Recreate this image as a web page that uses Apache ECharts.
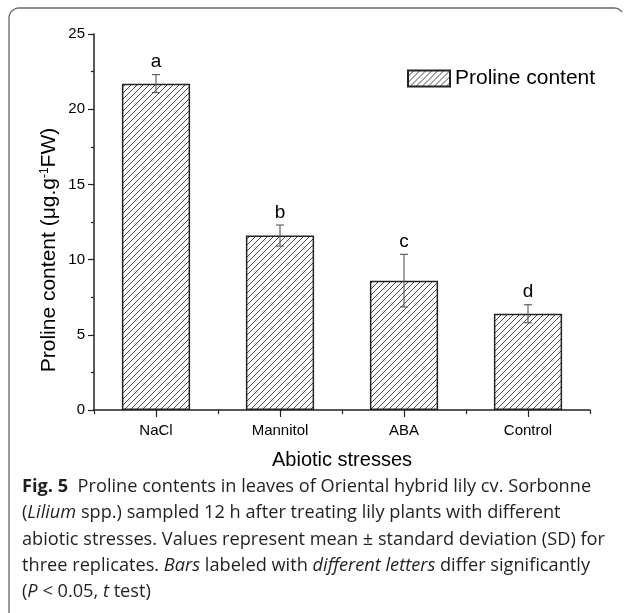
<!DOCTYPE html>
<html>
<head>
<meta charset="utf-8">
<script src="https://cdn.jsdelivr.net/npm/echarts@6/dist/echarts.min.js"></script>
<style>
html,body{margin:0;padding:0;background:#fff;}
#c{width:627px;height:613px;}
</style>
</head>
<body>
<div id="c"></div>
<script>
const categories = ['NaCl', 'Mannitol', 'ABA', 'Control'];
const means = [21.7, 11.6, 8.6, 6.4];
const errors = [0.6, 0.7, 1.75, 0.6];
const letters = ['a', 'b', 'c', 'd'];
const yMin = 0, yMax = 25, yInterval = 5;
const seriesName = 'Proline content';
const captionLines = [
  '{b|Fig. 5}  Proline contents in leaves of Oriental hybrid lily cv. Sorbonne',
  '({i|Lilium} spp.) sampled 12 h after treating lily plants with different',
  'abiotic stresses. Values represent mean \u00b1 standard deviation (SD) for',
  'three replicates. {i|Bars} labeled with {i|different letters} differ significantly',
  '({i|P} < 0.05, {i|t} test)'
];

// hatch pattern
const tile = document.createElement('canvas');
tile.width = 6; tile.height = 6;
const tc = tile.getContext('2d');
tc.fillStyle = '#fff';
tc.fillRect(0, 0, 6, 6);
tc.strokeStyle = '#333';
tc.lineWidth = 0.9;
tc.beginPath();
tc.moveTo(-1, 7); tc.lineTo(7, -1);
tc.moveTo(-1, 1); tc.lineTo(1, -1);
tc.moveTo(5, 7); tc.lineTo(7, 5);
tc.stroke();
const hatch = { image: tile, repeat: 'repeat' };

const chart = echarts.init(document.getElementById('c'), null, { renderer: 'canvas' });
const FONT = 'Liberation Sans, Arial, sans-serif';
const CAP_FONT = 'Open Sans, sans-serif';
const CAP_SIZE = 18.2;

const errData = categories.map((c, i) => [i, means[i], errors[i]]);

function arcPts(cx, cy, r, a0, a1, n) {
  const p = [];
  for (let k = 0; k <= n; k++) {
    const a = a0 + (a1 - a0) * k / n;
    p.push([cx + r * Math.cos(a), cy + r * Math.sin(a)]);
  }
  return p;
}
const framePts = [[9, 613]].concat(arcPts(19, 18, 10, Math.PI, Math.PI * 1.5, 8))
  .concat(arcPts(614, 18, 10, Math.PI * 1.5, Math.PI * 1.8, 5));

const graphics = [
  {
    type: 'polyline',
    shape: { points: framePts },
    style: { fill: null, stroke: '#666', lineWidth: 1.3 },
    silent: true
  },
  {
    type: 'text',
    x: 49, y: 250,
    rotation: Math.PI / 2,
    style: {
      text: 'Proline content (\u03bcg.g{sup|-1}FW)',
      fontSize: 21, fontFamily: FONT, fill: '#000',
      align: 'center', verticalAlign: 'middle',
      rich: {
        sup: { fontSize: 12, fontFamily: FONT, fill: '#000', verticalAlign: 'top', lineHeight: 13 }
      }
    }
  }
];
captionLines.forEach((t, k) => {
  graphics.push({
    type: 'text',
    x: 22, y: 487 + k * 26.3,
    style: {
      text: t,
      fontSize: CAP_SIZE, fontFamily: CAP_FONT, fill: '#231f20',
      align: 'left', verticalAlign: 'middle',
      rich: {
        b: { fontSize: CAP_SIZE, fontFamily: CAP_FONT, fontWeight: 'bold', fill: '#231f20' },
        i: { fontSize: CAP_SIZE, fontFamily: CAP_FONT, fontStyle: 'italic', fill: '#231f20' }
      }
    }
  });
});

const option = {
  animation: false,
  backgroundColor: '#fff',
  grid: { left: 94, right: 37, top: 34, bottom: 203, containLabel: false },
  legend: {
    data: [seriesName],
    left: 402, top: 63,
    itemWidth: 42, itemHeight: 16,
    icon: 'rect',
    textStyle: { fontSize: 21, fontFamily: FONT, color: '#000' },
    selectedMode: false
  },
  xAxis: [
    {
      type: 'category',
      data: categories,
      position: 'bottom',
      axisLine: { show: true, lineStyle: { color: '#222', width: 1.5 } },
      axisTick: { show: true, alignWithLabel: true, length: 7, lineStyle: { color: '#222', width: 1.2 } },
      axisLabel: { fontSize: 15, fontFamily: FONT, color: '#000', margin: 13 },
      name: 'Abiotic stresses',
      nameLocation: 'middle',
      nameGap: 40,
      nameTextStyle: { fontSize: 20, fontFamily: FONT, color: '#000' },
      splitLine: { show: false }
    },
    {
      type: 'category',
      data: categories,
      position: 'bottom',
      axisLine: { show: false },
      axisTick: { show: true, length: 4, lineStyle: { color: '#222', width: 1.2 } },
      axisLabel: { show: false },
      splitLine: { show: false }
    }
  ],
  yAxis: {
    type: 'value',
    min: yMin, max: yMax, interval: yInterval,
    axisLine: { show: true, lineStyle: { color: '#222', width: 1.5 } },
    axisTick: { show: true, length: 6, lineStyle: { color: '#222', width: 1.2 } },
    minorTick: { show: true, splitNumber: 2, length: 3, lineStyle: { color: '#222', width: 1.2 } },
    axisLabel: { fontSize: 15, fontFamily: FONT, color: '#000', margin: 9 },
    splitLine: { show: false }
  },
  series: [
    {
      name: seriesName,
      type: 'bar',
      xAxisIndex: 0,
      data: means,
      barWidth: '55%',
      itemStyle: { color: hatch, borderColor: '#222', borderWidth: 1.5 },
      z: 2
    },
    {
      type: 'custom',
      xAxisIndex: 0,
      data: errData,
      z: 5,
      renderItem: function (params, api) {
        const i = api.value(0), m = api.value(1), e = api.value(2);
        const top = api.coord([i, m + e]);
        const bot = api.coord([i, m - e]);
        const hw = 4;
        const st = { stroke: '#555', lineWidth: 1.1 };
        return {
          type: 'group',
          children: [
            { type: 'line', shape: { x1: top[0], y1: top[1], x2: bot[0], y2: bot[1] }, style: st },
            { type: 'line', shape: { x1: top[0] - hw, y1: top[1], x2: top[0] + hw, y2: top[1] }, style: st },
            { type: 'line', shape: { x1: bot[0] - hw, y1: bot[1], x2: bot[0] + hw, y2: bot[1] }, style: st },
            {
              type: 'text',
              x: top[0], y: top[1] - 3,
              style: {
                text: letters[params.dataIndex],
                fontSize: 19, fontFamily: FONT, fill: '#000',
                align: 'center', verticalAlign: 'bottom'
              }
            }
          ]
        };
      }
    }
  ],
  graphic: graphics
};
chart.setOption(option);
</script>
</body>
</html>
